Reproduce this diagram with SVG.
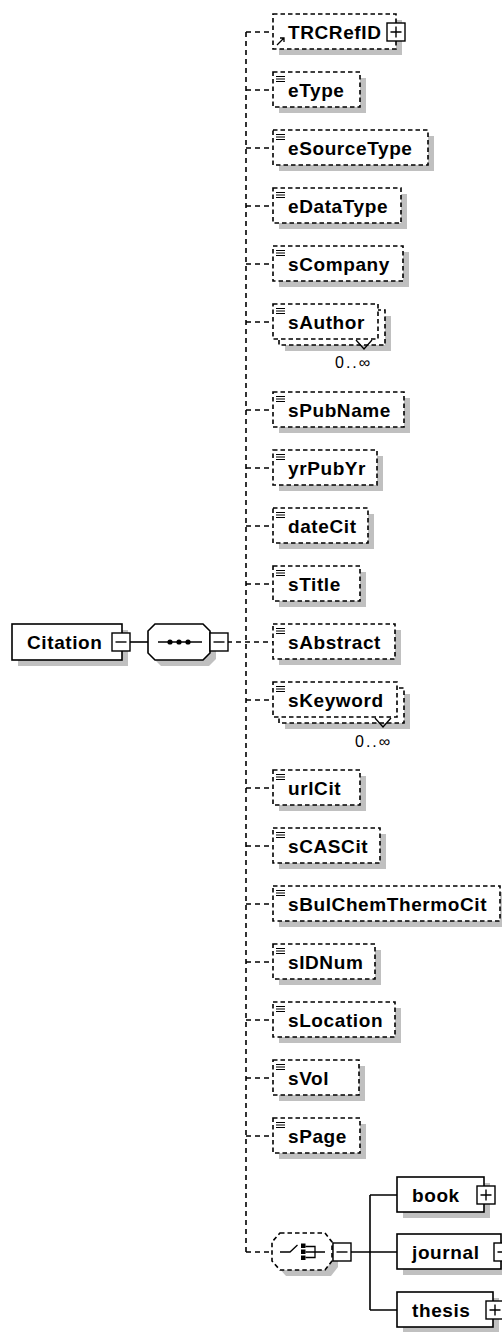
<svg xmlns="http://www.w3.org/2000/svg" xmlns:xlink="http://www.w3.org/1999/xlink" width="502" height="1332" viewBox="0 0 502 1332">
<style>
.eb{fill:#fff;stroke:#000;stroke-width:1.6;stroke-dasharray:4.5 3}
.sb{fill:#fff;stroke:#000;stroke-width:1.6}
.sh{fill:#c0c0c0}
.t{font-family:"Liberation Sans",Arial,sans-serif;font-weight:bold;font-size:19px;letter-spacing:0.6px;fill:#000}
.occ{font-family:"Liberation Sans",Arial,sans-serif;font-size:16px;letter-spacing:2px;fill:#000}
.dc{stroke:#000;stroke-width:1.6;stroke-dasharray:5 4;fill:none}
.sc{stroke:#000;stroke-width:1.6;fill:none}
.ln{stroke:#000;stroke-width:1.3;fill:none}
</style>
<defs>
<g id="ico"><path d="M0 0.5H9M0 3H9M0 5.5H9" stroke="#000" stroke-width="1.2"/></g>
<g id="plus"><rect x="-9" y="-9" width="18" height="18" fill="#fff" stroke="#000" stroke-width="1.4"/><path d="M-5.5 0H5.5M0 -5.5V5.5" stroke="#000" stroke-width="1.4"/></g>
<g id="minus"><rect x="-9" y="-9" width="18" height="18" fill="#fff" stroke="#000" stroke-width="1.4"/><path d="M-5.5 0H5.5" stroke="#000" stroke-width="1.4"/></g>
</defs>

<g id="connectors">
<path class="sc" d="M130 642H148"/>
<path class="dc" d="M227 642H273"/>
<path class="dc" d="M246 32V1252"/>
<path class="dc" d="M246 32H273M246 90H273M246 148H273M246 206H273M246 264H273M246 322H273M246 410H273M246 468H273M246 526H273M246 584H273M246 700H273M246 788H273M246 846H273M246 904H273M246 962H273M246 1020H273M246 1078H273M246 1136H273M246 1252H272"/>
<path class="sc" d="M351 1252H397M370 1195V1310M370 1195H397M370 1310H397"/>
</g>

<g id="Citation">
<rect class="sh" x="18" y="630" width="110" height="36"/>
<rect class="sb" x="12" y="624" width="110" height="36"/>
<text class="t" x="27" y="649">Citation</text>
<use xlink:href="#minus" x="121" y="642"/>
</g>

<g id="sequence">
<polygon class="sh" points="161,630 209,630 216,637 216,659 209,666 161,666 154,659 154,637"/>
<polygon class="sb" points="155,624 203,624 210,631 210,653 203,660 155,660 148,653 148,631"/>
<path class="ln" d="M158 642H202"/>
<circle cx="170" cy="642" r="2.6"/><circle cx="179" cy="642" r="2.6"/><circle cx="188" cy="642" r="2.6"/>
<use xlink:href="#minus" x="219" y="642"/>
</g>

<g id="TRCRefID">
<rect class="sh" x="279" y="20" width="123" height="35"/>
<rect class="eb" x="273" y="14" width="123" height="35"/>
<path class="ln" d="M277 45L284 38M280 38H284V42" stroke-width="1.6"/>
<text class="t" x="288" y="39">TRCRefID</text>
<use xlink:href="#plus" x="396" y="32"/>
</g>

<g id="eType">
<rect class="sh" x="279" y="78" width="87" height="35"/>
<rect class="eb" x="273" y="72" width="87" height="35"/>
<use xlink:href="#ico" x="276" y="76"/>
<text class="t" x="288" y="97">eType</text>
</g>

<g id="eSourceType">
<rect class="sh" x="279" y="136" width="155" height="35"/>
<rect class="eb" x="273" y="130" width="155" height="35"/>
<use xlink:href="#ico" x="276" y="134"/>
<text class="t" x="288" y="155">eSourceType</text>
</g>

<g id="eDataType">
<rect class="sh" x="279" y="194" width="128" height="35"/>
<rect class="eb" x="273" y="188" width="128" height="35"/>
<use xlink:href="#ico" x="276" y="192"/>
<text class="t" x="288" y="213">eDataType</text>
</g>

<g id="sCompany">
<rect class="sh" x="279" y="252" width="130" height="35"/>
<rect class="eb" x="273" y="246" width="130" height="35"/>
<use xlink:href="#ico" x="276" y="250"/>
<text class="t" x="288" y="271">sCompany</text>
</g>

<g id="sAuthor">
<rect class="sh" x="285" y="316" width="106" height="35"/>
<rect class="eb" x="279" y="310" width="106" height="35"/>
<rect class="eb" x="273" y="304" width="105" height="35"/>
<path class="ln" d="M356 340L364 349L372 340"/>
<use xlink:href="#ico" x="276" y="308"/>
<text class="t" x="288" y="329">sAuthor</text>
<text class="occ" x="335" y="368">0..∞</text>
</g>

<g id="sPubName">
<rect class="sh" x="279" y="398" width="131" height="35"/>
<rect class="eb" x="273" y="392" width="131" height="35"/>
<use xlink:href="#ico" x="276" y="396"/>
<text class="t" x="288" y="417">sPubName</text>
</g>

<g id="yrPubYr">
<rect class="sh" x="279" y="456" width="104" height="35"/>
<rect class="eb" x="273" y="450" width="104" height="35"/>
<use xlink:href="#ico" x="276" y="454"/>
<text class="t" x="288" y="475">yrPubYr</text>
</g>

<g id="dateCit">
<rect class="sh" x="279" y="514" width="95" height="35"/>
<rect class="eb" x="273" y="508" width="95" height="35"/>
<use xlink:href="#ico" x="276" y="512"/>
<text class="t" x="288" y="533">dateCit</text>
</g>

<g id="sTitle">
<rect class="sh" x="279" y="572" width="87" height="35"/>
<rect class="eb" x="273" y="566" width="87" height="35"/>
<use xlink:href="#ico" x="276" y="570"/>
<text class="t" x="288" y="591">sTitle</text>
</g>

<g id="sAbstract">
<rect class="sh" x="279" y="630" width="122" height="35"/>
<rect class="eb" x="273" y="624" width="122" height="35"/>
<use xlink:href="#ico" x="276" y="628"/>
<text class="t" x="288" y="649">sAbstract</text>
</g>

<g id="sKeyword">
<rect class="sh" x="285" y="694" width="125" height="35"/>
<rect class="eb" x="279" y="688" width="125" height="35"/>
<rect class="eb" x="273" y="682" width="124" height="35"/>
<path class="ln" d="M375 718L383 727L391 718"/>
<use xlink:href="#ico" x="276" y="686"/>
<text class="t" x="288" y="707">sKeyword</text>
<text class="occ" x="355" y="747">0..∞</text>
</g>

<g id="urlCit">
<rect class="sh" x="279" y="776" width="87" height="35"/>
<rect class="eb" x="273" y="770" width="87" height="35"/>
<use xlink:href="#ico" x="276" y="774"/>
<text class="t" x="288" y="795">urlCit</text>
</g>

<g id="sCASCit">
<rect class="sh" x="279" y="834" width="107" height="35"/>
<rect class="eb" x="273" y="828" width="107" height="35"/>
<use xlink:href="#ico" x="276" y="832"/>
<text class="t" x="288" y="853">sCASCit</text>
</g>

<g id="sBulChemThermoCit">
<rect class="sh" x="279" y="892" width="227" height="35"/>
<rect class="eb" x="273" y="886" width="227" height="35"/>
<use xlink:href="#ico" x="276" y="890"/>
<text class="t" x="288" y="911">sBulChemThermoCit</text>
</g>

<g id="sIDNum">
<rect class="sh" x="279" y="950" width="102" height="35"/>
<rect class="eb" x="273" y="944" width="102" height="35"/>
<use xlink:href="#ico" x="276" y="948"/>
<text class="t" x="288" y="969">sIDNum</text>
</g>

<g id="sLocation">
<rect class="sh" x="279" y="1008" width="122" height="35"/>
<rect class="eb" x="273" y="1002" width="122" height="35"/>
<use xlink:href="#ico" x="276" y="1006"/>
<text class="t" x="288" y="1027">sLocation</text>
</g>

<g id="sVol">
<rect class="sh" x="279" y="1066" width="86" height="35"/>
<rect class="eb" x="273" y="1060" width="86" height="35"/>
<use xlink:href="#ico" x="276" y="1064"/>
<text class="t" x="288" y="1085">sVol</text>
</g>

<g id="sPage">
<rect class="sh" x="279" y="1124" width="87" height="35"/>
<rect class="eb" x="273" y="1118" width="87" height="35"/>
<use xlink:href="#ico" x="276" y="1122"/>
<text class="t" x="288" y="1143">sPage</text>
</g>

<g id="choice">
<polygon class="sh" points="286,1239 331,1239 338,1248 338,1267 331,1276 286,1276 278,1267 278,1248"/>
<polygon class="eb" points="280,1233 325,1233 332,1242 332,1261 325,1270 280,1270 272,1261 272,1242"/>
<path class="ln" d="M280 1252H290L297.5 1245M305.5 1246.5H315V1257.5H305.5M305.5 1252H325"/>
<rect x="301" y="1243.5" width="4.5" height="4.5"/>
<rect x="301" y="1249.5" width="4.5" height="4.5"/>
<rect x="301" y="1255.5" width="4.5" height="4.5"/>
<use xlink:href="#minus" x="342" y="1252"/>
</g>

<g id="book">
<rect class="sh" x="403" y="1183" width="87" height="35"/>
<rect class="sb" x="397" y="1177" width="87" height="35"/>
<text class="t" x="412" y="1202">book</text>
<use xlink:href="#plus" x="486" y="1195"/>
</g>

<g id="journal">
<rect class="sh" x="403" y="1240" width="104" height="35"/>
<rect class="sb" x="397" y="1234" width="104" height="35"/>
<text class="t" x="412" y="1259">journal</text>
<use xlink:href="#plus" x="503" y="1252"/>
</g>

<g id="thesis">
<rect class="sh" x="403" y="1298" width="96" height="35"/>
<rect class="sb" x="397" y="1292" width="96" height="35"/>
<text class="t" x="412" y="1317">thesis</text>
<use xlink:href="#plus" x="495" y="1310"/>
</g>
</svg>
